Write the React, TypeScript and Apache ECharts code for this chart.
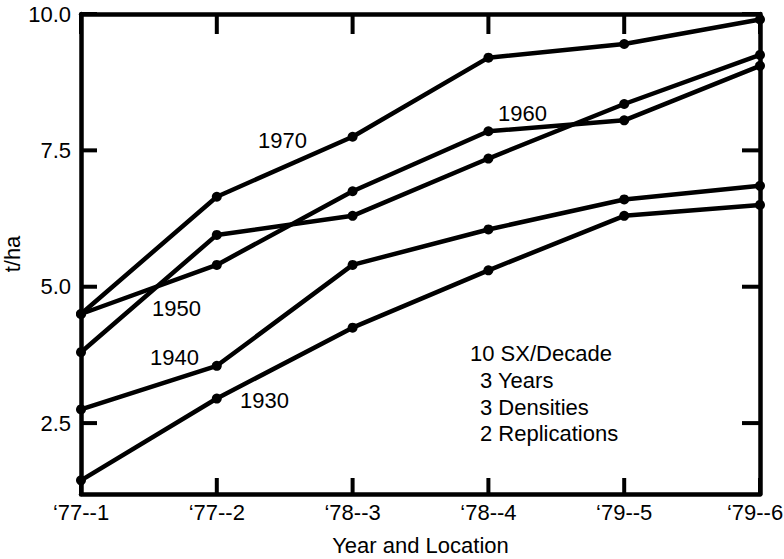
import React, { useEffect, useRef } from "react";
import * as echarts from "echarts";

// Year and location of each trial
const categories = ["‘77--1", "‘77--2", "‘78--3", "‘78--4", "‘79--5", "‘79--6"];

// Mean yield (t/ha) of the hybrids released in each decade
const decade1970 = [4.5, 6.65, 7.75, 9.2, 9.45, 9.9];
const decade1960 = [4.5, 5.4, 6.75, 7.85, 8.05, 9.05];
const decade1950 = [3.8, 5.95, 6.3, 7.35, 8.35, 9.25];
const decade1940 = [2.75, 3.55, 5.4, 6.05, 6.6, 6.85];
const decade1930 = [1.45, 2.95, 4.25, 5.3, 6.3, 6.5];

const seriesNames = ["1970", "1960", "1950", "1940", "1930"];
const seriesValues = [decade1970, decade1960, decade1950, decade1940, decade1930];

const yTicks = [2.5, 5.0, 7.5, 10.0];
const notes = ["10 SX/Decade", "3 Years", "3 Densities", "2 Replications"];

const FONT = "'Liberation Sans', Arial, Helvetica, sans-serif";
const INK = "#000";
const FS = 22;
const Y_MIN = 1.2;
const Y_MAX = 10;

export default function App() {
  const ref = useRef<HTMLDivElement>(null);

  useEffect(() => {
    document.body.style.margin = "0";
    if (!ref.current) return;
    const chart = echarts.init(ref.current, undefined, { renderer: "svg" });

    const frameLine = {
      show: true,
      onZero: false,
      lineStyle: { color: INK, width: 4.5 },
    };

    const lastIndex = categories.length - 1;
    const xTicks = categories.map((_, k) => k);

    // Trials are placed at positions 0..n-1 on a numeric x axis
    const series: any[] = seriesNames.map((name, i) => ({
      name,
      type: "line",
      xAxisIndex: 0,
      yAxisIndex: 0,
      data: seriesValues[i].map((v, k) => [xTicks[k], v]),
      symbol: "circle",
      symbolSize: 10,
      lineStyle: { color: INK, width: 4.5 },
      itemStyle: { color: INK },
      z: 3,
    }));

    // Inward tick marks on all four sides of the frame: [x, y, side]
    const frameTicks = [
      ...xTicks.map((k) => [k, Y_MIN, 0]),
      ...xTicks.map((k) => [k, Y_MAX, 1]),
      ...yTicks.map((v) => [0, v, 2]),
      ...yTicks.map((v) => [lastIndex, v, 3]),
    ];
    const tickVector = [
      [0, -16],
      [0, 20],
      [16, 0],
      [-18, 0],
    ];
    series.push({
      type: "custom",
      name: "frame ticks",
      silent: true,
      clip: false,
      xAxisIndex: 0,
      yAxisIndex: 0,
      data: frameTicks,
      encode: { x: 0, y: 1 },
      z: 2,
      renderItem: (_params: any, api: any) => {
        const p = api.coord([api.value(0), api.value(1)]);
        const d = tickVector[api.value(2)];
        return {
          type: "line",
          shape: { x1: p[0], y1: p[1], x2: p[0] + d[0], y2: p[1] + d[1] },
          style: { stroke: INK, lineWidth: 4 },
        };
      },
    });

    const labelText = (text: string, x: number, y: number) => ({
      type: "text",
      x,
      y,
      style: {
        text,
        fill: INK,
        font: `${FS}px ${FONT}`,
        textVerticalAlign: "middle",
      },
      z: 10,
    });

    const xBase = {
      type: "value",
      min: 0,
      max: lastIndex,
      axisLine: frameLine,
      axisTick: { show: false },
      splitLine: { show: false },
    };
    const yBase = {
      type: "value",
      min: Y_MIN,
      max: Y_MAX,
      axisLine: frameLine,
      axisTick: { show: false },
      splitLine: { show: false },
    };

    chart.setOption({
      animation: false,
      backgroundColor: "#fff",
      grid: {
        left: 81,
        right: 24,
        top: 14,
        bottom: 65,
        containLabel: false,
        outerBoundsMode: "none",
      },
      xAxis: [
        {
          ...xBase,
          position: "bottom",
          axisLabel: {
            color: INK,
            fontSize: FS,
            fontFamily: FONT,
            margin: 7,
            hideOverlap: false,
            customValues: xTicks,
            formatter: (v: number) => {
              const k = Math.round(v);
              const label = categories[k] ?? "";
              return k === lastIndex ? `{edge|${label}}` : label;
            },
            rich: {
              edge: {
                color: INK,
                fontSize: FS,
                fontFamily: FONT,
                padding: [0, 10, 0, 0],
              },
            },
          },
          name: "Year and Location",
          nameLocation: "middle",
          nameGap: 40,
          nameMoveOverlap: false,
          nameTextStyle: { color: INK, fontSize: FS, fontFamily: FONT },
        },
        {
          ...xBase,
          position: "top",
          axisLabel: { show: false },
        },
      ],
      yAxis: [
        {
          ...yBase,
          position: "left",
          axisLabel: {
            color: INK,
            fontSize: FS,
            fontFamily: FONT,
            margin: 10,
            customValues: yTicks,
            formatter: (v: number) => v.toFixed(1),
          },
          name: "t/ha",
          nameLocation: "middle",
          nameGap: 58,
          nameMoveOverlap: false,
          nameTextStyle: { color: INK, fontSize: FS, fontFamily: FONT },
        },
        {
          ...yBase,
          position: "right",
          axisLabel: { show: false },
        },
      ],
      series,
      graphic: [
        labelText("1970", 258, 140),
        labelText("1960", 498, 113),
        labelText("1950", 152, 308),
        labelText("1940", 150, 357),
        labelText("1930", 240, 400),
        labelText(notes[0], 470, 353),
        labelText(notes[1], 480, 380),
        labelText(notes[2], 480, 407),
        labelText(notes[3], 480, 433),
      ],
    });

    return () => chart.dispose();
  }, []);

  return <div ref={ref} style={{ width: 784, height: 559 }} />;
}
